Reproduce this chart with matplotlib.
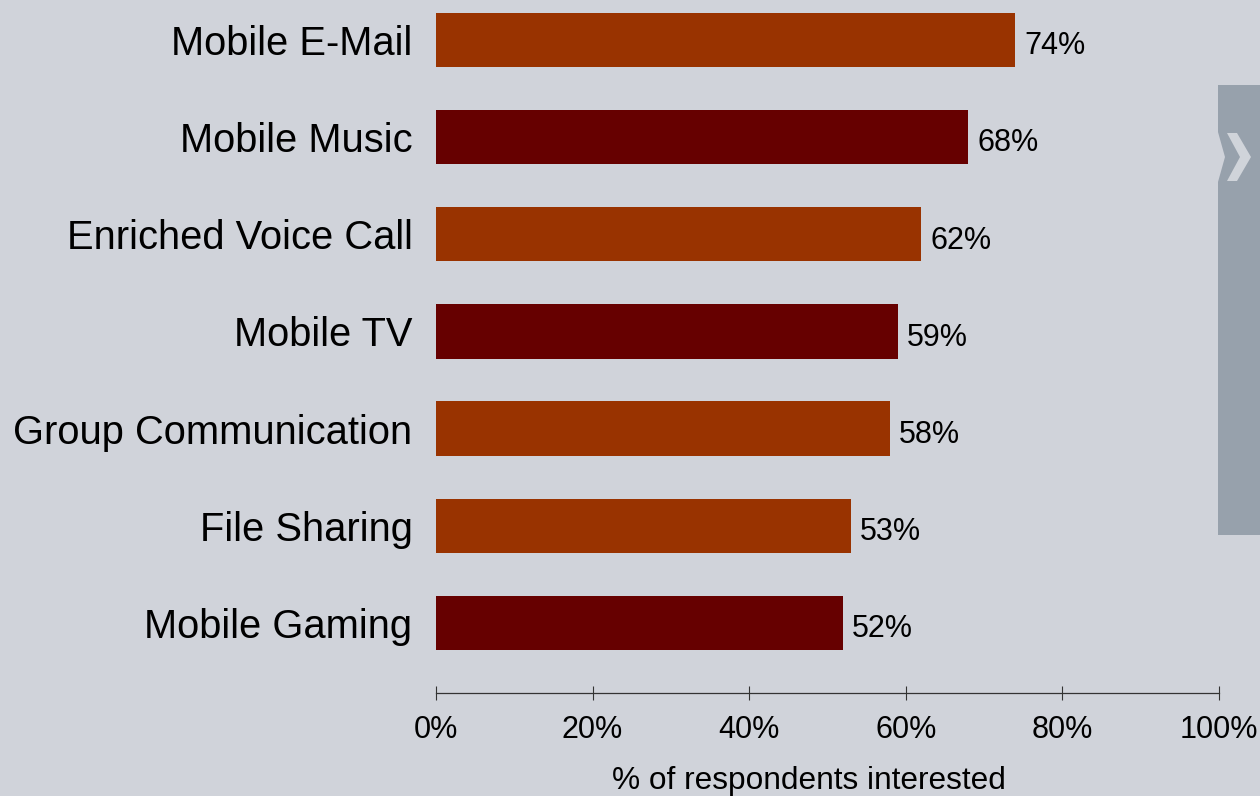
import matplotlib
matplotlib.use("Agg")
import matplotlib.pyplot as plt
from matplotlib.patches import Polygon
from matplotlib.ticker import FuncFormatter

plt.rcParams['font.family'] = ['Liberation Sans', 'DejaVu Sans']

categories = ["Mobile E-Mail", "Mobile Music", "Enriched Voice Call", "Mobile TV",
              "Group Communication", "File Sharing", "Mobile Gaming"]
values = [74, 68, 62, 59, 58, 53, 52]
bar_colors = ["#993300", "#660000", "#993300", "#660000", "#993300", "#993300", "#660000"]
xticks = [0, 20, 40, 60, 80, 100]
xlabel = "% of respondents interested"

BG = "#D0D3DA"
W, H = 1260, 796

fig = plt.figure(figsize=(W / 100, H / 100), dpi=100, facecolor=BG)
ax = fig.add_axes([436 / W, (H - 693) / H, (1219 - 436) / W, 693 / H])
ax.set_facecolor(BG)

pos = list(range(len(categories)))
ax.barh(pos, values, height=0.56, color=bar_colors, zorder=2)
for p, v in zip(pos, values):
    ax.text(v + 1.1, p + 0.03, f"{v}%", va="center_baseline", ha="left", fontsize=22,
            color="black")

ax.set_xlim(0, 100)
ax.set_ylim(6.72, -0.41)
ax.set_yticks(pos)
ax.set_yticklabels(categories, fontsize=28.7)
ax.tick_params(axis="y", length=0, pad=17)
ax.set_xticks(xticks)
ax.xaxis.set_major_formatter(FuncFormatter(lambda x, _: f"{x:.0f}%"))
ax.tick_params(axis="x", direction="inout", length=10, width=0.8, labelsize=22, pad=11,
               color="#333333")
ax.set_xlabel(xlabel, fontsize=22.8)
ax.xaxis.set_label_coords(0.476, -0.105)

for side in ("top", "right", "left"):
    ax.spines[side].set_visible(False)
ax.spines["bottom"].set_color("#333333")
ax.spines["bottom"].set_linewidth(0.9)


def fc(x, y):
    return (x / W, 1 - y / H)


# side panel with notched left edge
panel = [(1218, 85), (1262, 85), (1262, 535), (1218, 535), (1218, 182),
         (1225, 157), (1218, 132)]
fig.patches.append(Polygon([fc(*p) for p in panel], closed=True, transform=fig.transFigure,
                           facecolor="#97A1AC", edgecolor="none"))
chevron = [(1227, 133), (1237, 133), (1251, 157), (1237, 181), (1227, 181), (1240, 157)]
fig.patches.append(Polygon([fc(*p) for p in chevron], closed=True, transform=fig.transFigure,
                           facecolor="#D0D4DA", edgecolor="none"))

fig.savefig("out.png", dpi=100, facecolor=BG)
